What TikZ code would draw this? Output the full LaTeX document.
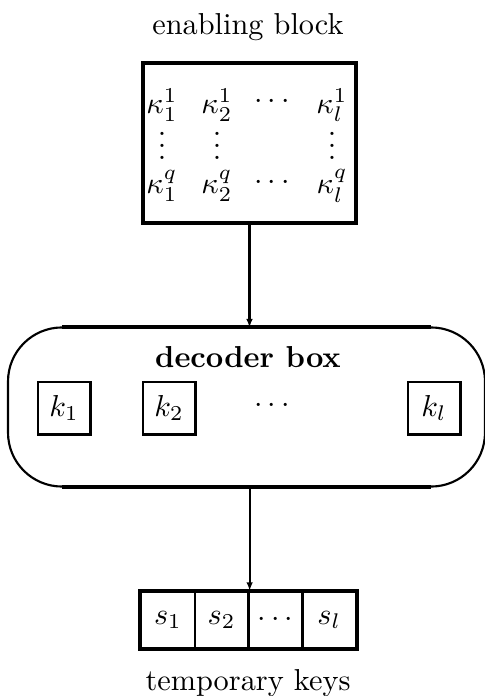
\documentclass[tikz,border=0pt]{standalone}
\usetikzlibrary{arrows.meta}
\begin{document}
\begin{tikzpicture}[x=0.33pt,y=-0.33pt,
  thickline/.style={line width=1.3pt},
  thinline/.style={line width=0.7pt},
  keybox/.style={draw,line width=0.95pt,minimum width=17.2pt,minimum height=17.2pt,inner sep=0pt},
  scell/.style={draw,line width=0.8pt,minimum width=17.7pt,minimum height=18.5pt,inner sep=0pt},
  arr/.style={line width=0.7pt,-{Latex[length=2.8pt,width=2.2pt]}},
  ent/.style={inner sep=0pt},
  lbl/.style={anchor=base,inner sep=0pt}]
\useasboundingbox (0,0) rectangle (485,696);
% enabling block
\node[lbl] (title) at (248,35) {enabling block};
\node[draw,thickline,minimum width=70.4pt,minimum height=52.8pt,inner sep=0pt] (eb) at (249.5,143) {};
\node[ent] (a11) at (162,105) {$\kappa_1^1$};
\node[ent] (a12) at (217,105) {$\kappa_2^1$};
\node[ent] (a13) at (272,102) {$\cdots$};
\node[ent] (a14) at (332,105) {$\kappa_l^1$};
\node[ent] (v1) at (162,160) {\smash{$\vdots$}};
\node[ent] (v2) at (217,160) {\smash{$\vdots$}};
\node[ent] (v4) at (332,160) {\smash{$\vdots$}};
\node[ent] (aq1) at (162,186) {$\kappa_1^q$};
\node[ent] (aq2) at (217,186) {$\kappa_2^q$};
\node[ent] (aq3) at (272,183) {$\cdots$};
\node[ent] (aq4) at (332,186) {$\kappa_l^q$};
% decoder box
\node[minimum width=157pt,minimum height=52.1pt,inner sep=0pt] (dec) at (246.5,407) {};
\draw[thickline] ([xshift=17.8pt]dec.north west) -- ([xshift=-17.8pt]dec.north east);
\draw[thickline] ([xshift=17.8pt]dec.south west) -- ([xshift=-17.8pt]dec.south east);
\draw[thinline,rounded corners=17.8pt] ([xshift=17.8pt]dec.north west) -- (dec.north west) -- (dec.south west) -- ([xshift=17.8pt]dec.south west);
\draw[thinline,rounded corners=17.8pt] ([xshift=-17.8pt]dec.north east) -- (dec.north east) -- (dec.south east) -- ([xshift=-17.8pt]dec.south east);
\node[lbl] (dt) at (248,367) {\bfseries decoder box};
\node[keybox] (k1) at (64,408) {$k_1$};
\node[keybox] (k2) at (169,408) {$k_2$};
\node[ent] (kd) at (272,406) {$\cdots$};
\node[keybox] (kl) at (434,408) {$k_l$};
% temporary keys
\node[scell] (s1) at (167.9,620) {$s_1$};
\node[scell] (s2) at (221.6,620) {$s_2$};
\node[scell] (s3) at (275.4,620) {$\cdots$};
\node[scell] (s4) at (329.1,620) {$s_l$};
\draw[thickline] (s1.north west) rectangle (s4.south east);
\node[lbl] (tk) at (248,690) {temporary keys};
% connectors
\draw[arr] (eb.south) -- (eb.south |- dec.north);
\draw[arr] (dec.south -| s2.north east) -- (s2.north east);
\end{tikzpicture}
\end{document}
